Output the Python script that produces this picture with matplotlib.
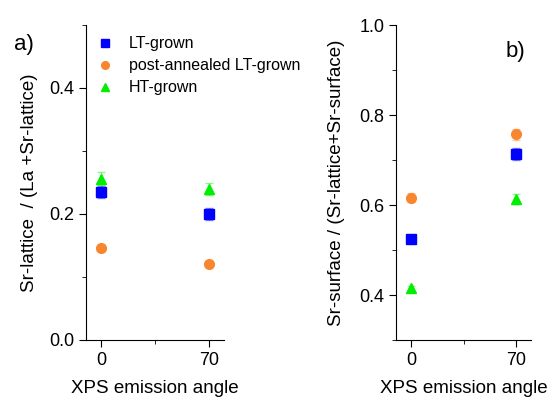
import matplotlib
matplotlib.use("Agg")
import matplotlib.pyplot as plt
from matplotlib.ticker import MultipleLocator
from matplotlib.lines import Line2D

plt.rcParams['font.family'] = ['Liberation Sans', 'DejaVu Sans']

angles = [0, 70]
series = ["LT-grown", "post-annealed LT-grown", "HT-grown"]
colors = ["#0000ff", "#f7862f", "#00ee00"]
markers = ["s", "o", "^"]

# Sr-lattice / (La + Sr-lattice)
lattice = [[0.235, 0.200], [0.146, 0.121], [0.256, 0.240]]
lattice_err = [[0.010, 0.009], [0.005, 0.004], [0.010, 0.010]]

# Sr-surface / (Sr-lattice + Sr-surface)
surface = [[0.525, 0.714], [0.616, 0.757], [0.415, 0.614]]
surface_err = [[0.008, 0.013], [0.010, 0.013], [0.006, 0.011]]

fig = plt.figure(figsize=(5.51, 4.0), dpi=100)
ax1 = fig.add_axes([86/551, 60/400, 138/551, 315/400])
ax2 = fig.add_axes([396/551, 60/400, 135/551, 315/400])


def draw(ax, vals, errs):
    for c, m, v, e in zip(colors, markers, vals, errs):
        cont = ax.errorbar(angles, v, yerr=e, fmt=m, color=c, ms=7,
                           mec=c, elinewidth=1, capsize=3, capthick=1)
        for ln in cont[1]:
            ln.set_alpha(0.45)
        for ln in cont[2]:
            ln.set_alpha(0.45)
    for s in ["top", "right"]:
        ax.spines[s].set_visible(False)
    ax.set_xlim(-10, 80)
    ax.set_xticks(angles)
    ax.xaxis.set_minor_locator(MultipleLocator(35))
    ax.tick_params(which="major", direction="out", length=5, labelsize=13)
    ax.tick_params(which="minor", direction="out", length=3)
    ax.set_xlabel("XPS emission angle", fontsize=13.5, labelpad=8)


draw(ax1, lattice, lattice_err)
ax1.set_ylim(0, 0.5)
ax1.set_yticks([0.0, 0.2, 0.4])
ax1.yaxis.set_minor_locator(MultipleLocator(0.1))
ax1.set_ylabel("Sr-lattice  / (La +Sr-lattice)", fontsize=13.5, labelpad=8)

handles = [Line2D([], [], ls="none", marker=m, color=c, ms=5.5)
           for c, m in zip(colors, markers)]
ax1.legend(handles, series, loc="upper left", bbox_to_anchor=(0.02, 0.985),
           frameon=False, fontsize=11.5, handletextpad=0.9, borderaxespad=0.0,
           labelspacing=0.45, handlelength=1.2)
ax1.text(-0.52, 0.92, "a)", transform=ax1.transAxes, fontsize=16)

draw(ax2, surface, surface_err)
ax2.set_ylim(0.3, 1.0)
ax2.set_yticks([0.4, 0.6, 0.8, 1.0])
ax2.yaxis.set_minor_locator(MultipleLocator(0.1))
ax2.set_ylabel("Sr-surface / (Sr-lattice+Sr-surface)", fontsize=13.5, labelpad=10)
ax2.text(0.81, 0.9, "b)", transform=ax2.transAxes, fontsize=16)

fig.savefig("out.png", dpi=100)
